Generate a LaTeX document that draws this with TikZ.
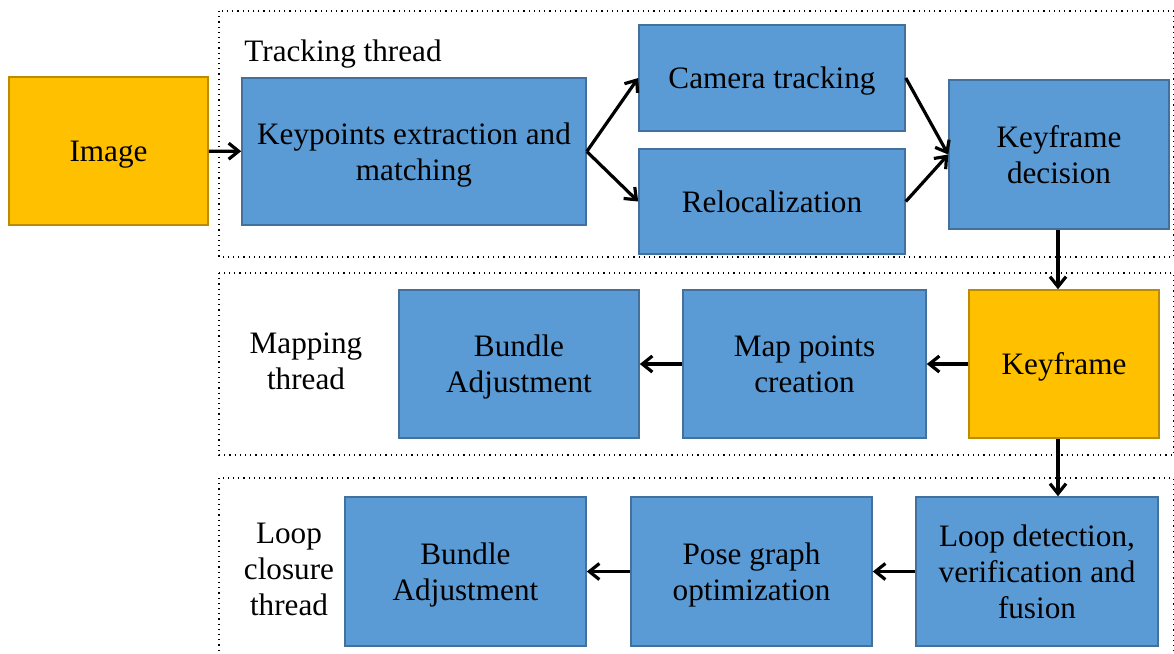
\documentclass[tikz,border=0pt]{standalone}
\usepackage{fontspec}
\setmainfont{Liberation Serif}
\usetikzlibrary{calc, arrows.meta}

\definecolor{boxblue}{HTML}{5B9BD5}
\definecolor{boxblueline}{HTML}{41719C}
\definecolor{boxgold}{HTML}{FFC000}
\definecolor{boxgoldline}{HTML}{BC8C00}

\tikzset{
    bluebox/.style={draw=boxblueline, fill=boxblue, line width=0.8pt, align=center, inner sep=2pt, text depth=-2.5pt},
    goldbox/.style={draw=boxgoldline, fill=boxgold, line width=0.8pt, align=center, inner sep=2pt, text depth=-2.5pt},
    threadframe/.style={draw, dotted, line width=0.6pt},
    flow/.style={line width=1.6pt, -{Straight Barb[length=5pt,width=8pt]}},
    threadlabel/.style={align=center, inner sep=0pt}
}

\begin{document}
\begin{tikzpicture}[x=0.5pt, y=-0.5pt, font=\fontsize{15.6}{18}\selectfont]
            \useasboundingbox (0,0) rectangle (1174,654);
            % thread frames
            \draw[threadframe] (219,11) rectangle (1173.6,257);
            \draw[threadframe] (219,273) rectangle (1173.6,455);
            \draw[threadframe] (219,478) rectangle (1173.6,662);
            \node[threadlabel, anchor=west] (tracklabel) at (244,54) {Tracking thread};
            \node[threadlabel] (maplabel) at (306,361) {Mapping\\thread};
            \node[threadlabel] (looplabel) at (289,569) {Loop\\closure\\thread};

            % tracking
            \node[goldbox, minimum width=99.5pt, minimum height=74pt] (image) at (108.5,151) {Image};
            \node[bluebox, minimum width=172pt, minimum height=73.5pt] (keypoints) at (414,151.5) {Keypoints extraction and\\matching};
            \node[bluebox, minimum width=133pt, minimum height=53pt] (camtrack) at (772,78) {Camera tracking};
            \node[bluebox, minimum width=133pt, minimum height=52.5pt] (reloc) at (772,201.5) {Relocalization};
            \node[bluebox, minimum width=110pt, minimum height=74.5pt] (kfdecision) at (1059,154.5) {Keyframe\\decision};

            % mapping
            \node[goldbox, minimum width=95pt, minimum height=74pt] (keyframe) at (1064,364) {Keyframe};
            \node[bluebox, minimum width=121.5pt, minimum height=74pt] (mappoints) at (804.5,364) {Map points\\creation};
            \node[bluebox, minimum width=120pt, minimum height=74pt] (bundlemap) at (519,364) {Bundle\\Adjustment};

            % loop closure
            \node[bluebox, minimum width=121pt, minimum height=74.5pt] (loopdetect) at (1037,571.5) {Loop detection,\\verification and\\fusion};
            \node[bluebox, minimum width=120.5pt, minimum height=74.5pt] (posegraph) at (751.5,571.5) {Pose graph\\optimization};
            \node[bluebox, minimum width=120.5pt, minimum height=74.5pt] (bundleloop) at (465.5,571.5) {Bundle\\Adjustment};

            \draw[flow] (image) -- (keypoints);
            \draw[flow] (keypoints.east) -- (camtrack.west);
            \draw[flow] (keypoints.east) -- (reloc.west);
            \draw[flow] (camtrack.east) -- (kfdecision.west);
            \draw[flow] (reloc.east) -- (kfdecision.west);
            \draw[flow] ($(kfdecision.south)+(-1,0)$) -- ($(kfdecision.south |- keyframe.north)+(-1,0)$);
            \draw[flow] (keyframe) -- (mappoints);
            \draw[flow] (mappoints) -- (bundlemap);
            \draw[flow] ($(keyframe.south -| kfdecision.south)+(-1,0)$) -- ($(kfdecision.south |- loopdetect.north)+(-1,0)$);
            \draw[flow] (loopdetect) -- (posegraph);
            \draw[flow] (posegraph.west) -- (bundleloop.east);
        \end{tikzpicture}
\end{document}
